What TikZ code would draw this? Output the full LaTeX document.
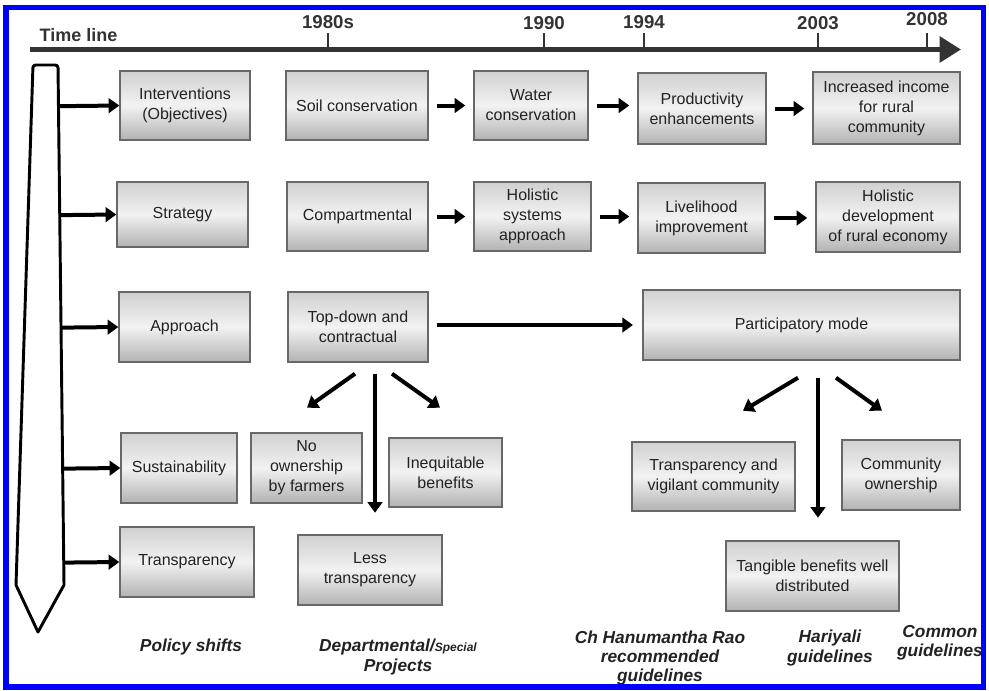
\documentclass[tikz,border=0pt]{standalone}
\usepackage{fontspec}
\setsansfont{Liberation Sans}
\usetikzlibrary{arrows.meta,calc,positioning}
\definecolor{FrameBlue}{HTML}{0000FF}
\definecolor{PlanInk}{HTML}{222222}
\definecolor{PlanEdge}{HTML}{686868}
\definecolor{PlanTop}{HTML}{D0D0D0}
\definecolor{PlanMid}{HTML}{F2F2F2}
\definecolor{PlanLow}{HTML}{B2B2B2}
\definecolor{AxisInk}{HTML}{333333}
\tikzset{
  every node/.style={font=\sffamily, text=PlanInk},
  stage/.style 2 args={draw=PlanEdge, line width=1.1pt, top color=PlanTop, bottom color=PlanLow, middle color=PlanMid, minimum width=#1*0.75pt, minimum height=#2*0.75pt, inner sep=1pt, align=center, font=\sffamily\fontsize{12}{15}\selectfont},
  link/.style={-{Triangle[length=8pt,width=11pt]}, draw=black, line width=3pt},
  spine/.style={draw=black, line width=2.2pt, line join=round, fill=white},
  timeaxis/.style={-{Triangle[length=16pt,width=19pt]}, draw=AxisInk, line width=3.75pt},
  yeartick/.style={draw=AxisInk, line width=1.1pt},
  yearlabel/.style={font=\sffamily\bfseries\fontsize{14}{16}\selectfont, text=AxisInk},
  era/.style={font=\sffamily\bfseries\itshape\fontsize{13}{14.6}\selectfont, align=center},
}
\begin{document}
\begin{tikzpicture}[x=0.75pt,y=-0.75pt]
  % x and y in pixels of the page, y running down
  \useasboundingbox (0,0) rectangle (989,690);
  % time line
  \coordinate (tlStart) at (30,49.5);
  \coordinate (tlEnd) at (961,49.5);
  \draw[timeaxis] (tlStart) -- (tlEnd);
  \node[font=\sffamily\bfseries\fontsize{13.5}{16}\selectfont, text=AxisInk, anchor=west] (tlLabel) at (35,35) {Time line};
  \foreach \x/\yr/\ly in {328/1980s/22.5,544/1990/23,644/1994/22.5,818/2003/23,927/2008/19.5}{
    \draw[yeartick] (\x,33) -- (\x,49.5);
    \node[yearlabel] (yr\yr) at (\x,\ly) {\yr};
  }
  % policy shift arrow
  \draw[spine] (38,632) -- (16,585) [rounded corners=2pt] -- (33,65) -- (58,65) [sharp corners] -- (64,585) -- cycle;
  \coordinate (spineTop) at (58,65);
  \coordinate (spineBot) at (64,585);
  % left column
  \node[stage={130}{69}] (interv) at (185,105.5) {Interventions\\(Objectives)};
  \node[stage={131}{65}] (strategy) at (182.5,214.5) {Strategy};
  \node[stage={131}{70}] (approach) at (184.5,327) {Approach};
  \node[stage={116}{70}] (sustain) at (179,468) {Sustainability};
  \node[stage={134}{70}] (transp) at (187,562) {Transparency};
  % objectives and strategy rows
  \node[stage={142}{69}] (soil) at (357,105.5) {Soil conservation};
  \node[stage={114}{69}] (water) at (531,105.5) {Water\\conservation};
  \node[stage={128}{71}] (prod) at (702,108.5) {Productivity\\enhancements};
  \node[stage={147}{72}] (income) at (886.5,108) {Increased income\\for rural\\community};
  \node[stage={141}{69}] (compart) at (357.5,216.5) {Compartmental};
  \node[stage={117}{69}] (holsys) at (532.5,216.5) {Holistic\\systems\\approach};
  \node[stage={127}{70}] (liveli) at (701.5,218) {Livelihood\\improvement};
  \node[stage={144}{70}] (holdev) at (888,217) {Holistic\\development\\of rural economy};
  % approach row
  \node[stage={140}{70}] (topdown) at (358,327) {Top-down and\\contractual};
  \node[stage={317}{70}] (partic) at (801.5,325) {Participatory mode};
  % outcomes
  \node[stage={111}{70}] (noown) at (306.5,468) {No\\ownership\\by farmers};
  \node[stage={113}{69}] (inequ) at (445.5,472.5) {Inequitable\\benefits};
  \node[stage={144}{70}] (lesstr) at (370,570) {Less\\transparency};
  \node[stage={163}{69}] (transvig) at (713.5,476.5) {Transparency and\\vigilant community};
  \node[stage={118}{70}] (commown) at (901,475) {Community\\ownership};
  \node[stage={173}{70}] (tangible) at (812.5,576) {Tangible benefits well\\distributed};
  % branches off the policy shift arrow
  \foreach \n in {interv,strategy,approach,sustain,transp}
    \draw[link] ($(spineTop)!(\n.west)!(spineBot)$) -- (\n.west);
  \foreach \a/\b in {soil/water,water/prod,prod/income,compart/holsys,holsys/liveli,liveli/holdev}
    \draw[link, shorten <=6pt, shorten >=6pt] (\a.east) -- (\a.east -| \b.west);
  \draw[link, shorten <=6pt, shorten >=7pt] (topdown.east |- partic.west) -- (partic.west);
  % splits below the approach boxes
  \coordinate (tdLa) at ($(topdown.south)+(-3,11)$);
  \coordinate (tdLb) at ($(topdown.south)+(-51,45)$);
  \coordinate (tdMa) at ($(topdown.south)+(17,11)$);
  \coordinate (tdMb) at ($(topdown.south)+(17,150)$);
  \coordinate (tdRa) at ($(topdown.south)+(34,11)$);
  \coordinate (tdRb) at ($(topdown.south)+(82,45)$);
  \coordinate (pmLa) at ($(partic.south)+(-3.5,17)$);
  \coordinate (pmLb) at ($(partic.south)+(-58.5,50)$);
  \coordinate (pmMa) at ($(partic.south)+(16.5,17)$);
  \coordinate (pmMb) at ($(partic.south)+(16.5,157)$);
  \coordinate (pmRa) at ($(partic.south)+(34.5,17)$);
  \coordinate (pmRb) at ($(partic.south)+(80.5,50)$);
  \foreach \s in {tdL,tdM,tdR,pmL,pmM,pmR}
    \draw[link] (\s a) -- (\s b);
  % phases
  \node[era] (policy) at (191,647) {Policy shifts};
  \node[era] (dept) at (398,657) {Departmental/{\fontsize{9}{10}\selectfont Special}\\Projects};
  \node[era] (hrao) at (660,658) {Ch Hanumantha Rao\\recommended\\guidelines};
  \node[era] (hariyali) at (830,648) {Hariyali\\guidelines};
  \node[era] (common) at (940,643) {Common\\guidelines};
  % frame
  \draw[FrameBlue, line width=4.2pt] (6,7.5) rectangle (983.5,687);
\end{tikzpicture}
\end{document}
